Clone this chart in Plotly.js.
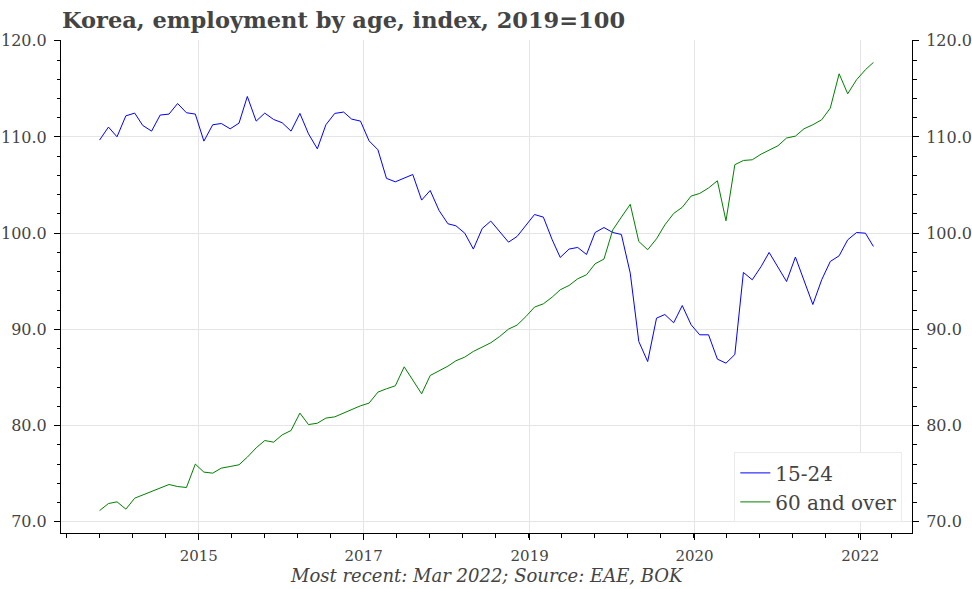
<!DOCTYPE html>
<html>
<head>
<meta charset="utf-8">
<script src="https://cdn.plot.ly/plotly-3.0.1.min.js"></script>
<style>html,body{margin:0;padding:0;background:#fff;}#chart{width:972px;height:589px;}</style>
</head>
<body>
<div id="chart"></div>
<script>
// Monthly observations
const months = [
  '2014-10','2014-11','2014-12',
  '2015-01','2015-02','2015-03','2015-04','2015-05','2015-06','2015-07','2015-08','2015-09','2015-10','2015-11','2015-12',
  '2016-01','2016-02','2016-03','2016-04','2016-05','2016-06','2016-07','2016-08','2016-09','2016-10','2016-11','2016-12',
  '2017-01','2017-02','2017-03','2017-04','2017-05','2017-06','2017-07','2017-08','2017-09','2017-10','2017-11','2017-12',
  '2018-01','2018-02','2018-03','2018-04','2018-05','2018-06','2018-07','2018-08','2018-09','2018-10','2018-11','2018-12',
  '2019-01','2019-02','2019-03','2019-04','2019-05','2019-06','2019-07','2019-08','2019-09','2019-10','2019-11','2019-12',
  '2020-01','2020-02','2020-03','2020-04','2020-05','2020-06','2020-07','2020-08','2020-09','2020-10','2020-11','2020-12',
  '2021-01','2021-02','2021-03','2021-04','2021-05','2021-06','2021-07','2021-08','2021-09','2021-10','2021-11','2021-12',
  '2022-01','2022-02','2022-03'
];

const age15to24 = [
  109.68,111.03,110.02,112.20,112.48,111.20,110.61,112.28,112.38,113.48,
  112.52,112.38,109.57,111.27,111.40,110.85,111.44,114.21,111.65,112.48,
  111.82,111.48,110.61,112.45,110.33,108.77,111.27,112.45,112.59,111.86,
  111.65,109.60,108.67,105.70,105.34,105.72,106.10,103.44,104.44,102.36,
  100.98,100.77,100.00,98.35,100.49,101.26,100.22,99.07,99.66,100.84,
  101.94,101.67,99.31,97.48,98.35,98.52,97.79,100.07,100.59,100.07,
  99.87,95.85,88.74,86.66,91.17,91.55,90.69,92.48,90.48,89.44,
  89.44,86.91,86.49,87.39,95.92,95.16,96.54,98.00,96.47,94.98,
  97.52,95.09,92.59,95.16,97.06,97.65,99.31,100.07,100.00,98.62
];

const age60plus = [
  71.17,71.90,72.08,71.32,72.46,72.81,73.12,73.50,73.88,73.67,
  73.57,76.00,75.17,75.06,75.58,75.75,75.93,76.72,77.69,78.45,
  78.28,79.04,79.49,81.30,80.11,80.25,80.78,80.91,81.30,81.67,
  82.06,82.34,83.48,83.83,84.14,86.11,84.69,83.31,85.21,85.70,
  86.18,86.74,87.12,87.71,88.16,88.61,89.26,90.03,90.45,91.34,
  92.32,92.66,93.36,94.12,94.57,95.26,95.68,96.82,97.31,100.35,
  101.67,103.00,99.14,98.28,99.42,100.86,102.05,102.69,103.86,104.13,
  104.70,105.45,101.29,107.12,107.56,107.63,108.22,108.67,109.09,109.89,
  110.09,110.85,111.27,111.79,113.00,116.57,114.49,115.95,116.99,117.75
];

const seriesNames = ['15-24', '60 and over'];
const xTickLabels = ['2015', '2017', '2019', '2020', '2022'];
const xTickDates = ['2015-09-13', '2017-04-12', '2018-11-14', '2020-06-13', '2022-01-14'];
const yTickVals = [70, 80, 90, 100, 110, 120];
const yTickLabels = ['70.0', '80.0', '90.0', '100.0', '110.0', '120.0'];

// minor tick positions: five per major interval
const majorMs = xTickDates.map(d => Date.parse(d));
const stepMs = (majorMs[1] - majorMs[0]) / 5;
const xMinor = [];
for (let k = -4; k <= 34; k++) {
  const t = majorMs[0] + k * stepMs;
  const iso = new Date(t).toISOString().slice(0, 10);
  if (t > Date.parse('2014-05-19') && t < Date.parse('2022-07-14')) xMinor.push(iso);
}

const txt = '#444444';
const serif = 'DejaVu Serif';

const traces = [
  {x: months, y: age15to24, name: seriesNames[0], type: 'scatter', mode: 'lines',
   legendgroup: 'a', line: {color: '#0000ff', width: 1}},
  {x: months, y: age60plus, name: seriesNames[1], type: 'scatter', mode: 'lines',
   legendgroup: 'b', yaxis: 'y2', line: {color: '#008000', width: 1}}
];

const yRange = [68.84, 120.08];
const yCommon = {
  range: yRange, autorange: false, tickmode: 'array', tickvals: yTickVals, ticktext: yTickLabels,
  ticks: 'outside', ticklen: 6, tickwidth: 1, tickcolor: '#000', ticklabelstandoff: 4,
  showline: true, linecolor: '#000', linewidth: 1,
  zeroline: false, tickfont: {family: serif, size: 16, color: txt},
  minor: {dtick: 2, tick0: 0, ticks: 'outside', ticklen: 3.5, tickwidth: 1, tickcolor: '#000', showgrid: false}
};

const layout = {
  width: 972, height: 589,
  margin: {l: 61, r: 60, t: 40, b: 56},
  paper_bgcolor: '#fff', plot_bgcolor: '#fff',
  title: {text: '<b>Korea, employment by age, index, 2019=100</b>',
          x: 62/972, xanchor: 'left', xref: 'container', y: 1 - 20/589, yanchor: 'middle', yref: 'container',
          font: {family: serif, size: 22.5, color: txt}},
  xaxis: {
    type: 'date', range: ['2014-05-19', '2022-07-14'], autorange: false,
    tickmode: 'array', tickvals: xTickDates, ticktext: xTickLabels,
    ticks: 'outside', ticklen: 6, tickwidth: 1, tickcolor: '#000', ticklabelstandoff: 3,
    showline: true, linecolor: '#000', linewidth: 1, mirror: false,
    showgrid: true, gridcolor: '#e5e5e5', gridwidth: 1, zeroline: false,
    tickfont: {family: serif, size: 15, color: txt},
    minor: {tickmode: 'array', tickvals: xMinor, ticks: 'outside', ticklen: 3.5, tickwidth: 1, tickcolor: '#000', showgrid: false}
  },
  yaxis: Object.assign({}, yCommon, {side: 'left', showgrid: true, gridcolor: '#e5e5e5', gridwidth: 1}),
  yaxis2: Object.assign({}, yCommon, {side: 'right', overlaying: 'y', showgrid: false, anchor: 'x'}),
  showlegend: true,
  legend: {x: 0.9886, xanchor: 'right', y: 0.0215, yanchor: 'bottom', traceorder: 'normal',
           bgcolor: '#ffffff', bordercolor: '#ebebeb', borderwidth: 1,
           font: {family: serif, size: 20, color: txt}, tracegroupgap: 3},
  annotations: [
    {text: 'Most recent: Mar 2022; Source: EAE, BOK', xref: 'paper', yref: 'paper',
     x: 0.5, y: -0.087, xanchor: 'center', yanchor: 'middle', showarrow: false,
     font: {family: serif, size: 18, color: txt, style: 'italic'}}
  ]
};

Plotly.newPlot('chart', traces, layout, {displayModeBar: false, staticPlot: true});
</script>
</body>
</html>
